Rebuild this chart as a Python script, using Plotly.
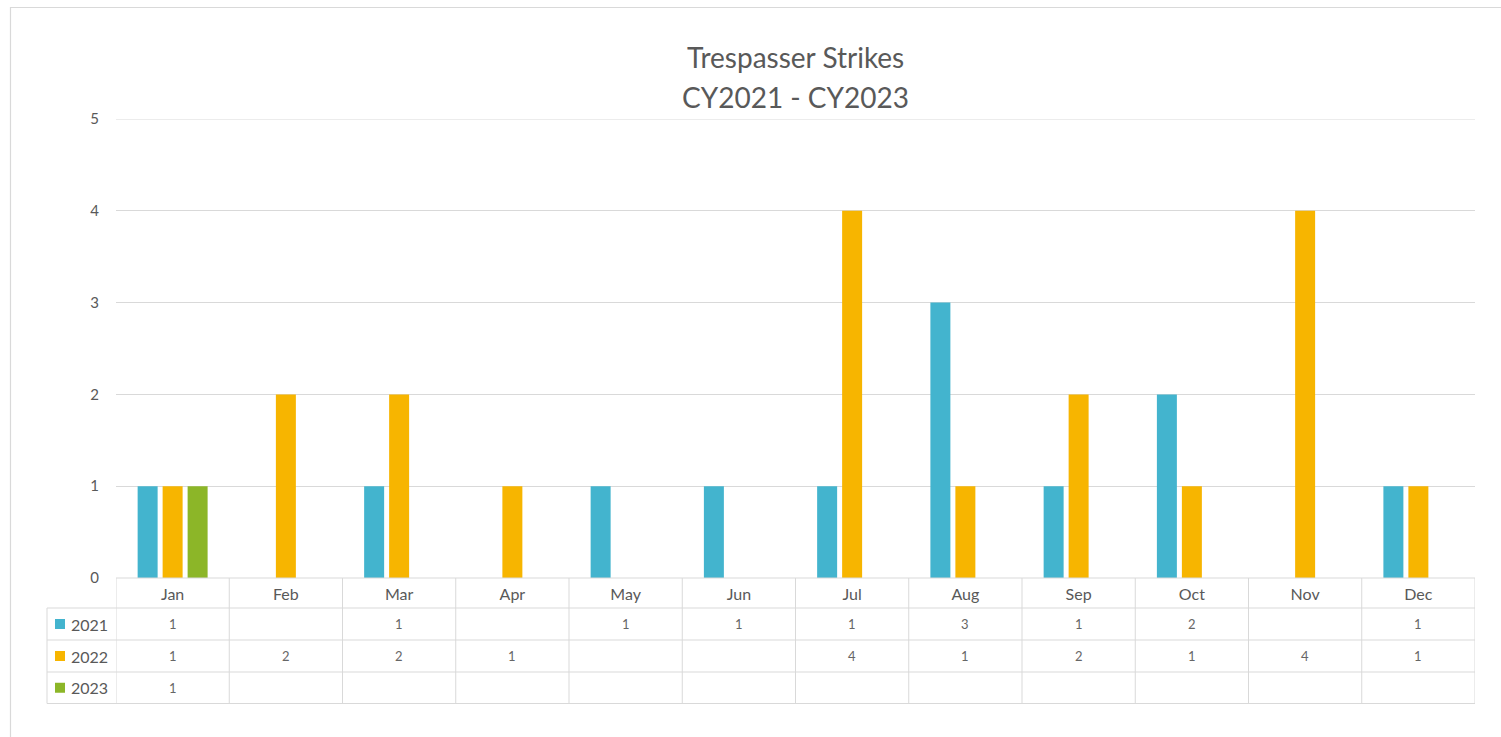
import plotly.graph_objects as go

months = ["Jan", "Feb", "Mar", "Apr", "May", "Jun", "Jul", "Aug", "Sep", "Oct", "Nov", "Dec"]
series_names = ["2021", "2022", "2023"]
values_2021 = [1, None, 1, None, 1, 1, 1, 3, 1, 2, None, 1]
values_2022 = [1, 2, 2, 1, None, None, 4, 1, 2, 1, 4, 1]
values_2023 = [1, None, None, None, None, None, None, None, None, None, None, None]
series_values = [values_2021, values_2022, values_2023]
colors = ["#43B4CE", "#F7B500", "#8CB628"]
title_line1 = "Trespasser Strikes"
title_line2 = "CY2021 - CY2023"
y_max = 5

W, H = 1501, 737
L, R, T, B = 116, 1475, 119, 578  # plot area in pixels
FONT = "Lato, 'Open Sans', sans-serif"
TXT = "#595959"
GRID = "#D9D9D9"


def px2x(px):
    return (px - L) / (R - L)


def px2y(py):
    return (B - py) / (B - T)


fig = go.Figure()
for name, vals, col in zip(series_names, series_values, colors):
    fig.add_trace(go.Bar(x=months, y=vals, name=name, marker=dict(color=col, line=dict(width=0))))

shapes = []
# outer chart border
shapes.append(dict(type="rect", xref="paper", yref="paper",
                   x0=px2x(10.5), x1=px2x(1520), y0=px2y(7.5), y1=px2y(760),
                   line=dict(color="#D9D9D9", width=1.2), fillcolor="rgba(0,0,0,0)", layer="below"))
# top gridline (at axis max)
shapes.append(dict(type="line", xref="paper", yref="y", x0=0, x1=1, y0=y_max, y1=y_max,
                   line=dict(color=GRID, width=1), layer="below"))

# table rows (pixel boundaries)
row_lines = [578, 608, 640, 672, 703.5]
label_left = 47
shapes.append(dict(type="line", xref="paper", yref="paper", x0=0, x1=1,
                   y0=px2y(row_lines[0]), y1=px2y(row_lines[0]), line=dict(color=GRID, width=1)))
for ry in row_lines[1:]:
    shapes.append(dict(type="line", xref="paper", yref="paper", x0=px2x(label_left), x1=1,
                       y0=px2y(ry), y1=px2y(ry), line=dict(color=GRID, width=1)))
for i in range(len(months) + 1):
    shapes.append(dict(type="line", xref="x", yref="paper", x0=i - 0.5, x1=i - 0.5,
                       y0=px2y(row_lines[0]), y1=px2y(row_lines[-1]), line=dict(color=GRID, width=1)))
shapes.append(dict(type="line", xref="paper", yref="paper", x0=px2x(label_left), x1=px2x(label_left),
                   y0=px2y(row_lines[1]), y1=px2y(row_lines[-1]), line=dict(color=GRID, width=1)))

annotations = []
annotations.append(dict(text=title_line1, xref="paper", yref="paper", x=0.5, y=px2y(57),
                        xanchor="center", yanchor="middle", showarrow=False,
                        font=dict(family=FONT, size=28, color=TXT)))
annotations.append(dict(text=title_line2, xref="paper", yref="paper", x=0.5, y=px2y(97),
                        xanchor="center", yanchor="middle", showarrow=False,
                        font=dict(family=FONT, size=28, color=TXT)))

for r, (name, vals, col) in enumerate(zip(series_names, series_values, colors)):
    top, bot = row_lines[r + 1], row_lines[r + 2]
    cy = (top + bot) / 2
    shapes.append(dict(type="rect", xref="paper", yref="paper",
                       x0=px2x(55), x1=px2x(65), y0=px2y(cy - 5), y1=px2y(cy + 5),
                       fillcolor=col, line=dict(width=0)))
    annotations.append(dict(text=name, xref="paper", yref="paper", x=px2x(69), y=px2y(cy),
                            xanchor="left", yanchor="middle", showarrow=False,
                            font=dict(family=FONT, size=16, color=TXT)))
    for m, v in zip(months, vals):
        if v is None:
            continue
        annotations.append(dict(text=str(v), xref="x", yref="paper", x=m, y=px2y(cy),
                                xanchor="center", yanchor="middle", showarrow=False,
                                font=dict(family=FONT, size=13, color="#666666")))

fig.update_layout(
    width=W, height=H,
    margin=dict(l=L, r=W - R, t=T, b=H - B, pad=0),
    paper_bgcolor="white", plot_bgcolor="white",
    barmode="group", bargap=0.338, bargroupgap=0.2,
    showlegend=False,
    shapes=shapes, annotations=annotations,
    font=dict(family=FONT, color=TXT),
    xaxis=dict(type="category", categoryorder="array", categoryarray=months,
               range=[-0.5, len(months) - 0.5], showgrid=False, zeroline=False,
               showline=False, ticks="", tickfont=dict(family=FONT, size=16, color=TXT),
               ticklabelstandoff=5, fixedrange=True),
    yaxis=dict(range=[0, y_max], dtick=1, tick0=0, showgrid=True, gridcolor=GRID, gridwidth=1,
               zeroline=False, showline=False, ticks="",
               tickfont=dict(family=FONT, size=15, color=TXT), ticklabelstandoff=16,
               fixedrange=True),
)

fig.write_html("out.html", config={"displayModeBar": False},
               post_script="document.body.style.margin='0';")
